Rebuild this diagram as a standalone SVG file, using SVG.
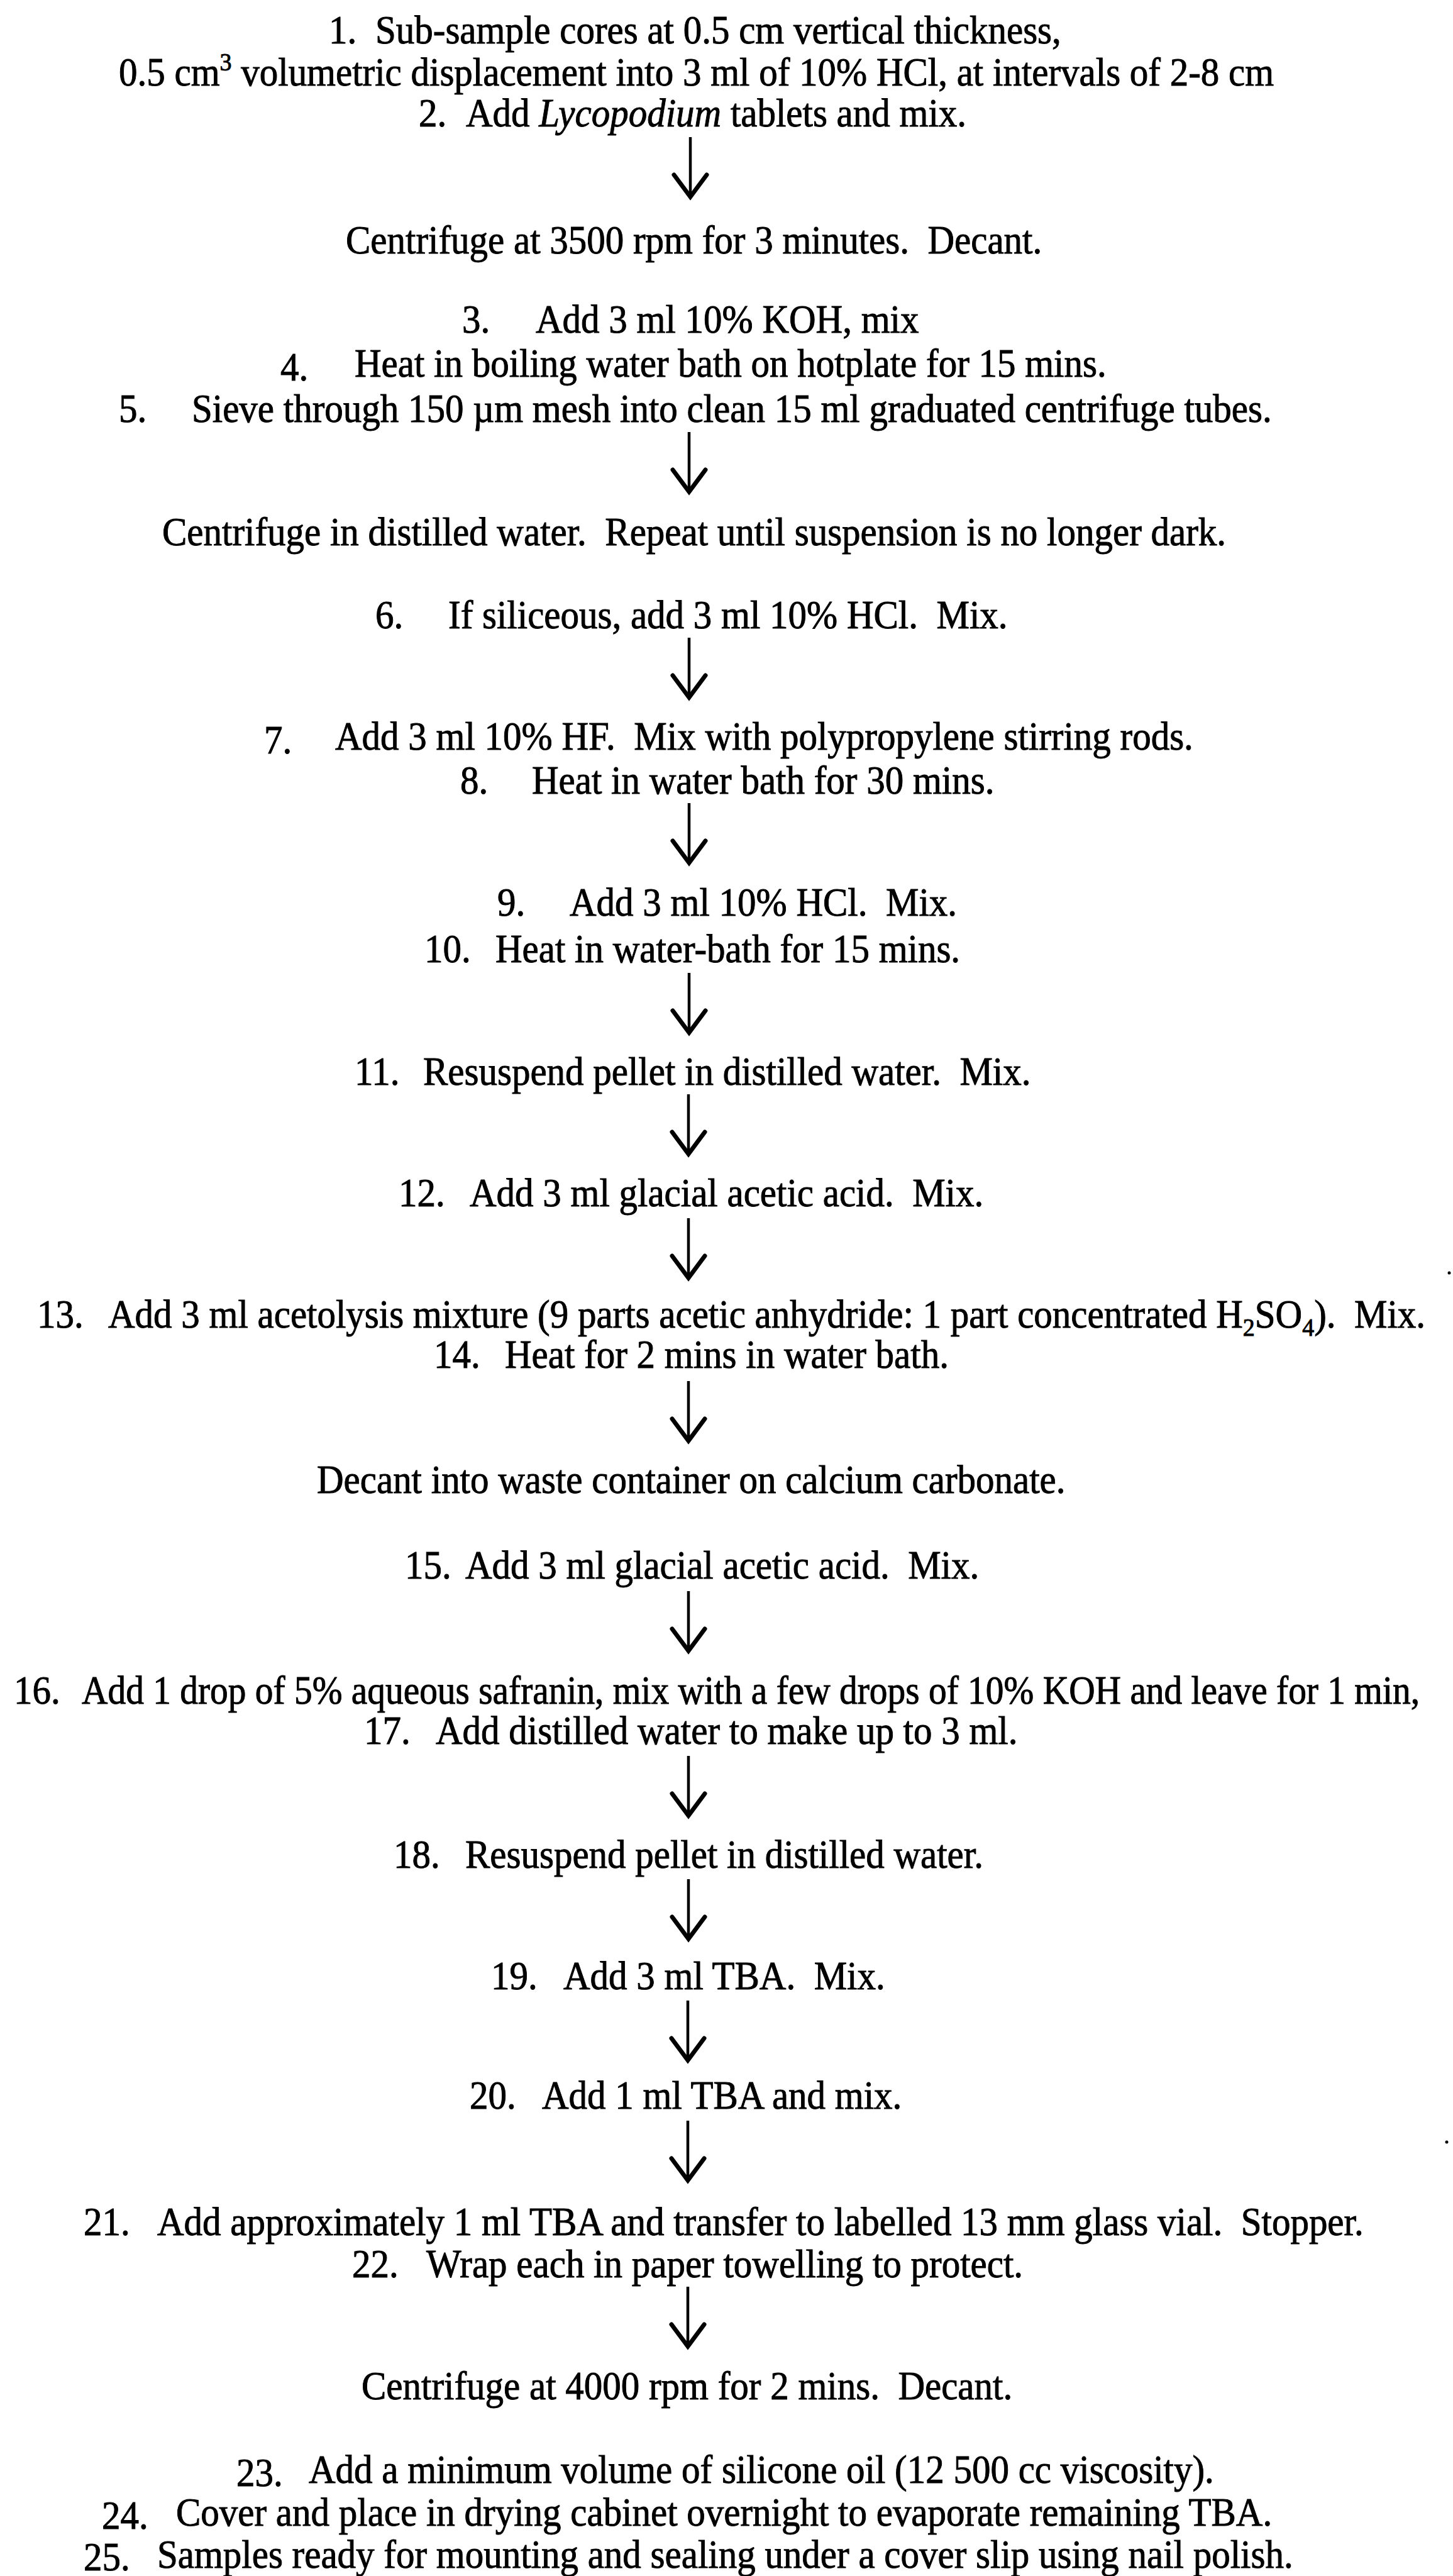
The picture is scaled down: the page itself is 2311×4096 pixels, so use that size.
<svg xmlns="http://www.w3.org/2000/svg" width="2311" height="4096" viewBox="0 0 2311 4096">
<style>
text{font-family:"Liberation Serif","Times New Roman",serif;font-size:59px;fill:#000;stroke:#000;stroke-width:0.9px;}
.it{font-style:italic;}
.sup{font-size:38px;}
.shaft{stroke:#000;stroke-width:4.5;fill:none;}
.head{stroke:#000;stroke-width:7;fill:none;stroke-linejoin:miter;stroke-linecap:round;}
</style>
<defs>
<g id="arrow"><line class="shaft" x1="0" y1="0" x2="0" y2="96"/><path class="head" d="M-26,60 L0,95 L26,60"/></g>
</defs>
<rect x="0" y="0" width="2311" height="4096" fill="#fff"/>
<g id="n1">
<g transform="translate(0,69) scale(1,1.07)"><text x="523" y="0">1.</text><text x="597" y="0">Sub-sample cores at 0.5 cm vertical thickness,</text></g>
<g transform="translate(0,136) scale(1,1.07)"><text x="189" y="0">0.5 cm<tspan class="sup" dy="-22">3</tspan><tspan dy="22"> volumetric displacement into 3 ml of 10% HCl, at intervals of 2-8 cm</tspan></text></g>
<g transform="translate(0,201) scale(1,1.07)"><text x="666" y="0">2.</text><text x="741" y="0">Add <tspan class="it">Lycopodium</tspan> tablets and mix.</text></g>
</g>
<g id="n2"><g transform="translate(0,403) scale(1,1.07)"><text x="550" y="0">Centrifuge at 3500 rpm for 3 minutes.&#160; Decant.</text></g></g>
<g id="n3">
<g transform="translate(0,529) scale(1,1.07)"><text x="735" y="0">3.</text><text x="852" y="0">Add 3 ml 10% KOH, mix</text></g>
<g transform="translate(0,599) scale(1,1.07)"><text x="446" y="6">4.</text><text x="564" y="0">Heat in boiling water bath on hotplate for 15 mins.</text></g>
<g transform="translate(0,671) scale(1,1.07)"><text x="189" y="0">5.</text><text x="305" y="0">Sieve through 150 µm mesh into clean 15 ml graduated centrifuge tubes.</text></g>
</g>
<g id="n4"><g transform="translate(0,867) scale(1,1.07)"><text x="258" y="0">Centrifuge in distilled water.&#160; Repeat until suspension is no longer dark.</text></g></g>
<g id="n5"><g transform="translate(0,999) scale(1,1.07)"><text x="597" y="0">6.</text><text x="713" y="0">If siliceous, add 3 ml 10% HCl.&#160; Mix.</text></g></g>
<g id="n6">
<g transform="translate(0,1192) scale(1,1.07)"><text x="420" y="6">7.</text><text x="533" y="0">Add 3 ml 10% HF.&#160; Mix with polypropylene stirring rods.</text></g>
<g transform="translate(0,1262) scale(1,1.07)"><text x="732" y="0">8.</text><text x="846" y="0">Heat in water bath for 30 mins.</text></g>
</g>
<g id="n7">
<g transform="translate(0,1456) scale(1,1.07)"><text x="791" y="0">9.</text><text x="906" y="0">Add 3 ml 10% HCl.&#160; Mix.</text></g>
<g transform="translate(0,1530) scale(1,1.07)"><text x="675" y="0">10.</text><text x="788" y="0">Heat in water-bath for 15 mins.</text></g>
</g>
<g id="n8"><g transform="translate(0,1725) scale(1,1.07)"><text x="564" y="0">11.</text><text x="673" y="0">Resuspend pellet in distilled water.&#160; Mix.</text></g></g>
<g id="n9"><g transform="translate(0,1918) scale(1,1.07)"><text x="634" y="0">12.</text><text x="747" y="0">Add 3 ml glacial acetic acid.&#160; Mix.</text></g></g>
<g id="n10">
<g transform="translate(0,2111) scale(1,1.07)"><text x="59" y="0">13.</text><text x="172" y="0">Add 3 ml acetolysis mixture (9 parts acetic anhydride: 1 part concentrated H<tspan class="sup" dy="12">2</tspan><tspan dy="-12">SO</tspan><tspan class="sup" dy="12">4</tspan><tspan dy="-12">).&#160; Mix.</tspan></text></g>
<g transform="translate(0,2175) scale(1,1.07)"><text x="690" y="0">14.</text><text x="803" y="0">Heat for 2 mins in water bath.</text></g>
</g>
<g id="n11"><g transform="translate(0,2374) scale(1,1.07)"><text x="504" y="0">Decant into waste container on calcium carbonate.</text></g></g>
<g id="n12"><g transform="translate(0,2510) scale(1,1.07)"><text x="644" y="0">15.</text><text x="740" y="0">Add 3 ml glacial acetic acid.&#160; Mix.</text></g></g>
<g id="n13">
<g transform="translate(0,2709) scale(1,1.07)"><text x="22" y="0">16.</text><text x="130" y="0" textLength="2128" lengthAdjust="spacingAndGlyphs">Add 1 drop of 5% aqueous safranin, mix with a few drops of 10% KOH and leave for 1 min,</text></g>
<g transform="translate(0,2773) scale(1,1.07)"><text x="579" y="0">17.</text><text x="693" y="0">Add distilled water to make up to 3 ml.</text></g>
</g>
<g id="n14"><g transform="translate(0,2970) scale(1,1.07)"><text x="626" y="0">18.</text><text x="740" y="0">Resuspend pellet in distilled water.</text></g></g>
<g id="n15"><g transform="translate(0,3163) scale(1,1.07)"><text x="781" y="0">19.</text><text x="896" y="0">Add 3 ml TBA.&#160; Mix.</text></g></g>
<g id="n16"><g transform="translate(0,3353) scale(1,1.07)"><text x="747" y="0">20.</text><text x="862" y="0">Add 1 ml TBA and mix.</text></g></g>
<g id="n17">
<g transform="translate(0,3554) scale(1,1.07)"><text x="133" y="0">21.</text><text x="250" y="0">Add approximately 1 ml TBA and transfer to labelled 13 mm glass vial.&#160; Stopper.</text></g>
<g transform="translate(0,3621) scale(1,1.07)"><text x="560" y="0">22.</text><text x="678" y="0">Wrap each in paper towelling to protect.</text></g>
</g>
<g id="n18"><g transform="translate(0,3815) scale(1,1.07)"><text x="575" y="0">Centrifuge at 4000 rpm for 2 mins.&#160; Decant.</text></g></g>
<g id="n19">
<g transform="translate(0,3948) scale(1,1.07)"><text x="376" y="5">23.</text><text x="491" y="0">Add a minimum volume of silicone oil (12 500 cc viscosity).</text></g>
<g transform="translate(0,4016) scale(1,1.07)"><text x="162" y="5">24.</text><text x="280" y="0">Cover and place in drying cabinet overnight to evaporate remaining TBA.</text></g>
<g transform="translate(0,4083) scale(1,1.07)"><text x="133" y="4">25.</text><text x="250" y="0">Samples ready for mounting and sealing under a cover slip using nail polish.</text></g>
</g>
<g id="connectors">
<use href="#arrow" x="1098" y="218"/>
<use href="#arrow" x="1096" y="687"/>
<use href="#arrow" x="1096" y="1014"/>
<use href="#arrow" x="1096" y="1277"/>
<use href="#arrow" x="1096" y="1547"/>
<use href="#arrow" x="1095" y="1740"/>
<use href="#arrow" x="1095" y="1937"/>
<use href="#arrow" x="1095" y="2196"/>
<use href="#arrow" x="1095" y="2530"/>
<use href="#arrow" x="1095" y="2792"/>
<use href="#arrow" x="1095" y="2988"/>
<use href="#arrow" x="1094" y="3181"/>
<use href="#arrow" x="1094" y="3372"/>
<use href="#arrow" x="1094" y="3636"/>
</g>
<g id="specks">
<circle cx="2305" cy="2024" r="2.5" fill="#000"/>
<circle cx="2301" cy="3406" r="2.5" fill="#000"/>
</g>
</svg>
